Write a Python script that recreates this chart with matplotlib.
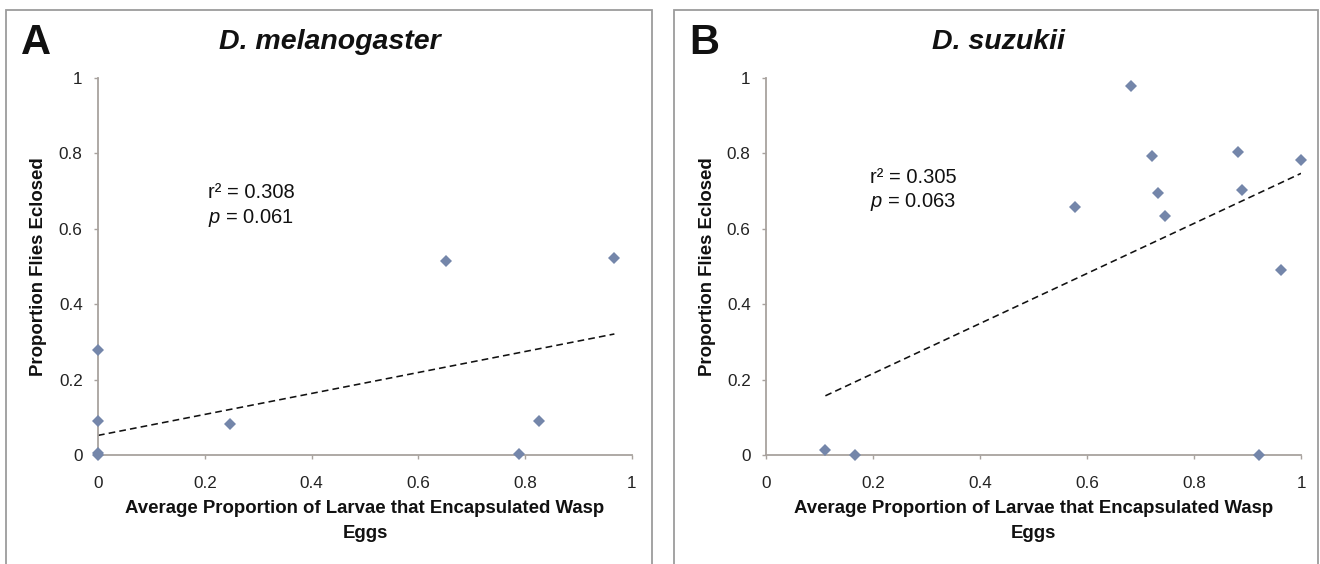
import matplotlib
matplotlib.use("Agg")
import matplotlib.pyplot as plt
from matplotlib.patches import Rectangle

plt.rcParams['font.family'] = ['Liberation Sans', 'DejaVu Sans']
plt.rcParams['mathtext.fontset'] = 'custom'
plt.rcParams['mathtext.rm'] = 'Liberation Sans'
plt.rcParams['mathtext.it'] = 'Liberation Sans:italic'
plt.rcParams['mathtext.bf'] = 'Liberation Sans:bold'

# ---- data ----
tick_vals = [0, 0.2, 0.4, 0.6, 0.8, 1]
tick_labels = ['0', '0.2', '0.4', '0.6', '0.8', '1']

mel_x = [0, 0, 0, 0, 0.248, 0.651, 0.788, 0.826, 0.967]
mel_y = [0.278, 0.090, 0.005, 0.0, 0.081, 0.514, 0.002, 0.090, 0.523]
mel_trend_x = [0, 0.967]
mel_trend_y = [0.052, 0.321]

suz_x = [0.111, 0.166, 0.578, 0.683, 0.721, 0.733, 0.746, 0.883, 0.889, 0.921, 0.962, 1.0]
suz_y = [0.012, 0.0, 0.659, 0.978, 0.794, 0.694, 0.633, 0.805, 0.703, 0.0, 0.490, 0.783]
suz_trend_x = [0.111, 1.0]
suz_trend_y = [0.157, 0.747]

panel_letters = ['A', 'B']
titles = ['D. melanogaster', 'D. suzukii']
stats_r2 = ['0.308', '0.305']
stats_p = ['0.061', '0.063']
xlabel = 'Average Proportion of Larvae that Encapsulated Wasp\nEggs'
ylabel = 'Proportion Flies Eclosed'

W, H = 1320, 564
fig = plt.figure(figsize=(W / 100, H / 100), dpi=100)

def fx(px):
    return px / W

def fy(py):
    return 1 - py / H

axis_gray = '#a8a29e'
frame_gray = '#9c9c9c'
marker_col = '#7486aa'
ink = '#111111'

# panel frames
for x0, x1 in [(6, 652), (674, 1318)]:
    fig.patches.append(Rectangle((fx(x0), fy(575)), fx(x1) - fx(x0), fy(10) - fy(575),
                                 transform=fig.transFigure, fill=False,
                                 edgecolor=frame_gray, linewidth=1.3))

axes_px = [(98, 632), (766, 1301)]
title_cx = [330, 998]
letter_cx = [36, 704]
ann_xy = [(0.206, 0.695, 0.629), (0.194, 0.737, 0.670)]
datasets = [(mel_x, mel_y, mel_trend_x, mel_trend_y),
            (suz_x, suz_y, suz_trend_x, suz_trend_y)]

top_px, bot_px = 78, 455
for i, (l, r) in enumerate(axes_px):
    ax = fig.add_axes([fx(l), fy(bot_px), fx(r) - fx(l), fy(top_px) - fy(bot_px)])
    xs, ys, tx, ty = datasets[i]
    ax.plot(tx, ty, linestyle=(0, (4.2, 2.6)), color=ink, linewidth=1.15, zorder=2)
    ax.plot(xs, ys, linestyle='none', marker='D', markersize=6.6, color=marker_col,
            markeredgewidth=0, clip_on=False, zorder=3)
    ax.set_xlim(0, 1)
    ax.set_ylim(0, 1)
    ax.set_xticks(tick_vals)
    ax.set_xticklabels(tick_labels)
    ax.set_yticks(tick_vals)
    ax.set_yticklabels(tick_labels)
    for s in ['top', 'right']:
        ax.spines[s].set_visible(False)
    for s in ['left', 'bottom']:
        ax.spines[s].set_color(axis_gray)
        ax.spines[s].set_linewidth(1.3)
    ax.tick_params(axis='both', direction='out', length=3, width=1.0, color=axis_gray,
                   labelsize=12.3, labelcolor='#222222')
    ax.tick_params(axis='x', pad=12)
    ax.tick_params(axis='y', pad=8)

    ax_x, ay1, ay2 = ann_xy[i]
    ax.text(ax_x, ay1, 'r\u00b2 = ' + stats_r2[i], fontsize=14.5, color=ink,
            ha='left', va='center')
    ax.text(ax_x, ay2, '$\\mathit{p}$ = ' + stats_p[i], fontsize=14.5, color=ink,
            ha='left', va='center')

    # titles, letters, axis labels
    fig.text(fx(title_cx[i]), fy(42), titles[i], fontsize=20.5, fontweight='bold',
             fontstyle='italic', ha='center', va='center', color=ink)
    fig.text(fx(letter_cx[i]), fy(43), panel_letters[i], fontsize=30, fontweight='bold',
             ha='center', va='center', color=ink)
    fig.text(fx((l + r) / 2), fy(521), xlabel, fontsize=13.4, fontweight='bold',
             ha='center', va='center', linespacing=1.65, color=ink)
    fig.text(fx(l - 59), fy((top_px + bot_px) / 2), ylabel, fontsize=13.4,
             fontweight='bold', rotation=90, ha='center', va='center', color=ink)

fig.savefig('out.png', dpi=100)
